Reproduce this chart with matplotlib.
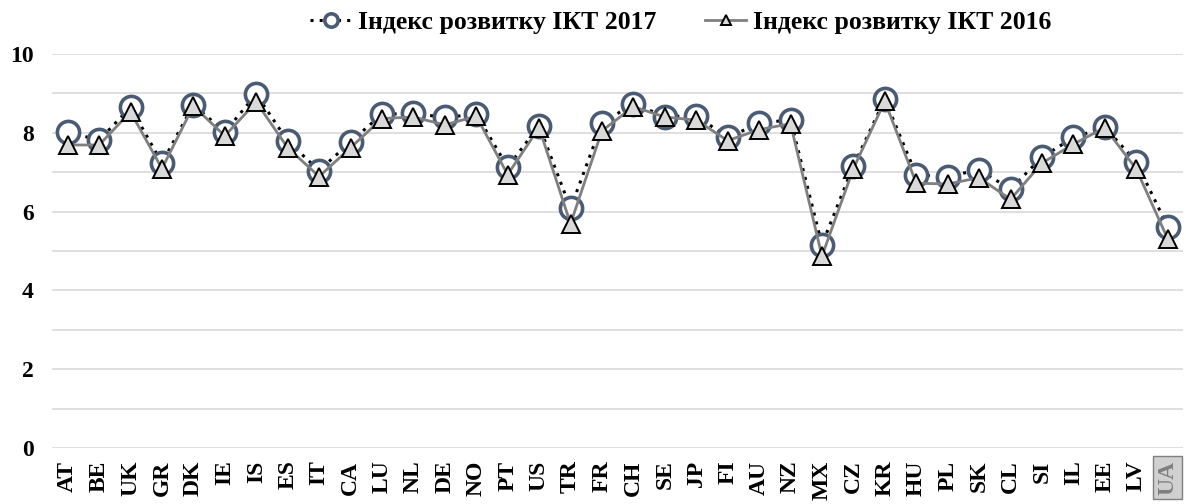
import matplotlib
matplotlib.use("Agg")
import numpy as np
import matplotlib.pyplot as plt

# ICT Development Index by country
countries = ["AT", "BE", "UK", "GR", "DK", "IE", "IS", "ES", "IT", "CA", "LU", "NL",
             "DE", "NO", "PT", "US", "TR", "FR", "CH", "SE", "JP", "FI", "AU", "NZ",
             "MX", "CZ", "KR", "HU", "PL", "SK", "CL", "SI", "IL", "EE", "LV", "UA"]
idi_2017 = [8.02, 7.81, 8.65, 7.23, 8.71, 8.02, 8.98, 7.79, 7.04, 7.77, 8.47, 8.49,
            8.39, 8.47, 7.13, 8.18, 6.08, 8.24, 8.74, 8.41, 8.43, 7.88, 8.24, 8.33,
            5.16, 7.16, 8.85, 6.93, 6.89, 7.06, 6.57, 7.38, 7.88, 8.14, 7.26, 5.62]
idi_2016 = [7.69, 7.69, 8.53, 7.09, 8.68, 7.92, 8.78, 7.62, 6.89, 7.62, 8.36, 8.40,
            8.20, 8.42, 6.94, 8.13, 5.69, 8.05, 8.66, 8.40, 8.32, 7.80, 8.08, 8.23,
            4.87, 7.09, 8.80, 6.72, 6.70, 6.86, 6.31, 7.23, 7.71, 8.13, 7.08, 5.31]

font = "Liberation Serif"
x = np.arange(len(countries))

fig = plt.figure(figsize=(11.86, 5.04), dpi=100)
ax = fig.add_axes([0.0438, 0.111, 0.954, 0.782])

ax.plot(x, idi_2017, linestyle=(0, (1, 2)), color="black", linewidth=2.2,
        marker="o", markersize=16, markerfacecolor="white",
        markeredgecolor="#4a5c74", markeredgewidth=2.6,
        label="Індекс розвитку ІКТ 2017", zorder=3)
ax.plot(x, idi_2016, linestyle="-", color="#7f7f7f", linewidth=2.0,
        marker="^", markersize=13, markerfacecolor="#d9d9d9",
        markeredgecolor="black", markeredgewidth=1.4,
        label="Індекс розвитку ІКТ 2016", zorder=4)

ax.set_xlim(-0.5, len(countries) - 0.5)
ax.set_ylim(0, 10)
ax.set_yticks(np.arange(0, 11, 2))
ax.set_yticks(np.arange(1, 10, 2), minor=True)
ax.grid(axis="y", which="both", color="#d9d9d9", linewidth=1.2, zorder=0)
ax.set_axisbelow(True)
for s in ax.spines.values():
    s.set_visible(False)
ax.tick_params(axis="both", which="both", length=0)
ax.tick_params(axis="y", pad=13)
ax.tick_params(axis="x", pad=9)

ax.set_yticklabels([str(v) for v in range(0, 11, 2)], fontfamily=font,
                   fontweight="bold", fontsize=17)
ax.set_xticks(x)
ax.set_xticklabels(countries, rotation=90, fontfamily=font, fontweight="bold",
                   fontsize=17)
for lbl in ax.get_xticklabels():
    if lbl.get_text() == "UA":
        lbl.set_color("#7f7f7f")
        lbl.set_bbox(dict(facecolor="#d0d0d0", edgecolor="#7f7f7f", pad=3))

fig.legend(loc="center", bbox_to_anchor=(0.574, 0.956), ncol=2, frameon=False,
           prop={"family": font, "weight": "bold", "size": 18.5},
           markerscale=0.6, handlelength=1.6, columnspacing=1.9, handletextpad=0.25)

fig.savefig("out.png", dpi=100)
